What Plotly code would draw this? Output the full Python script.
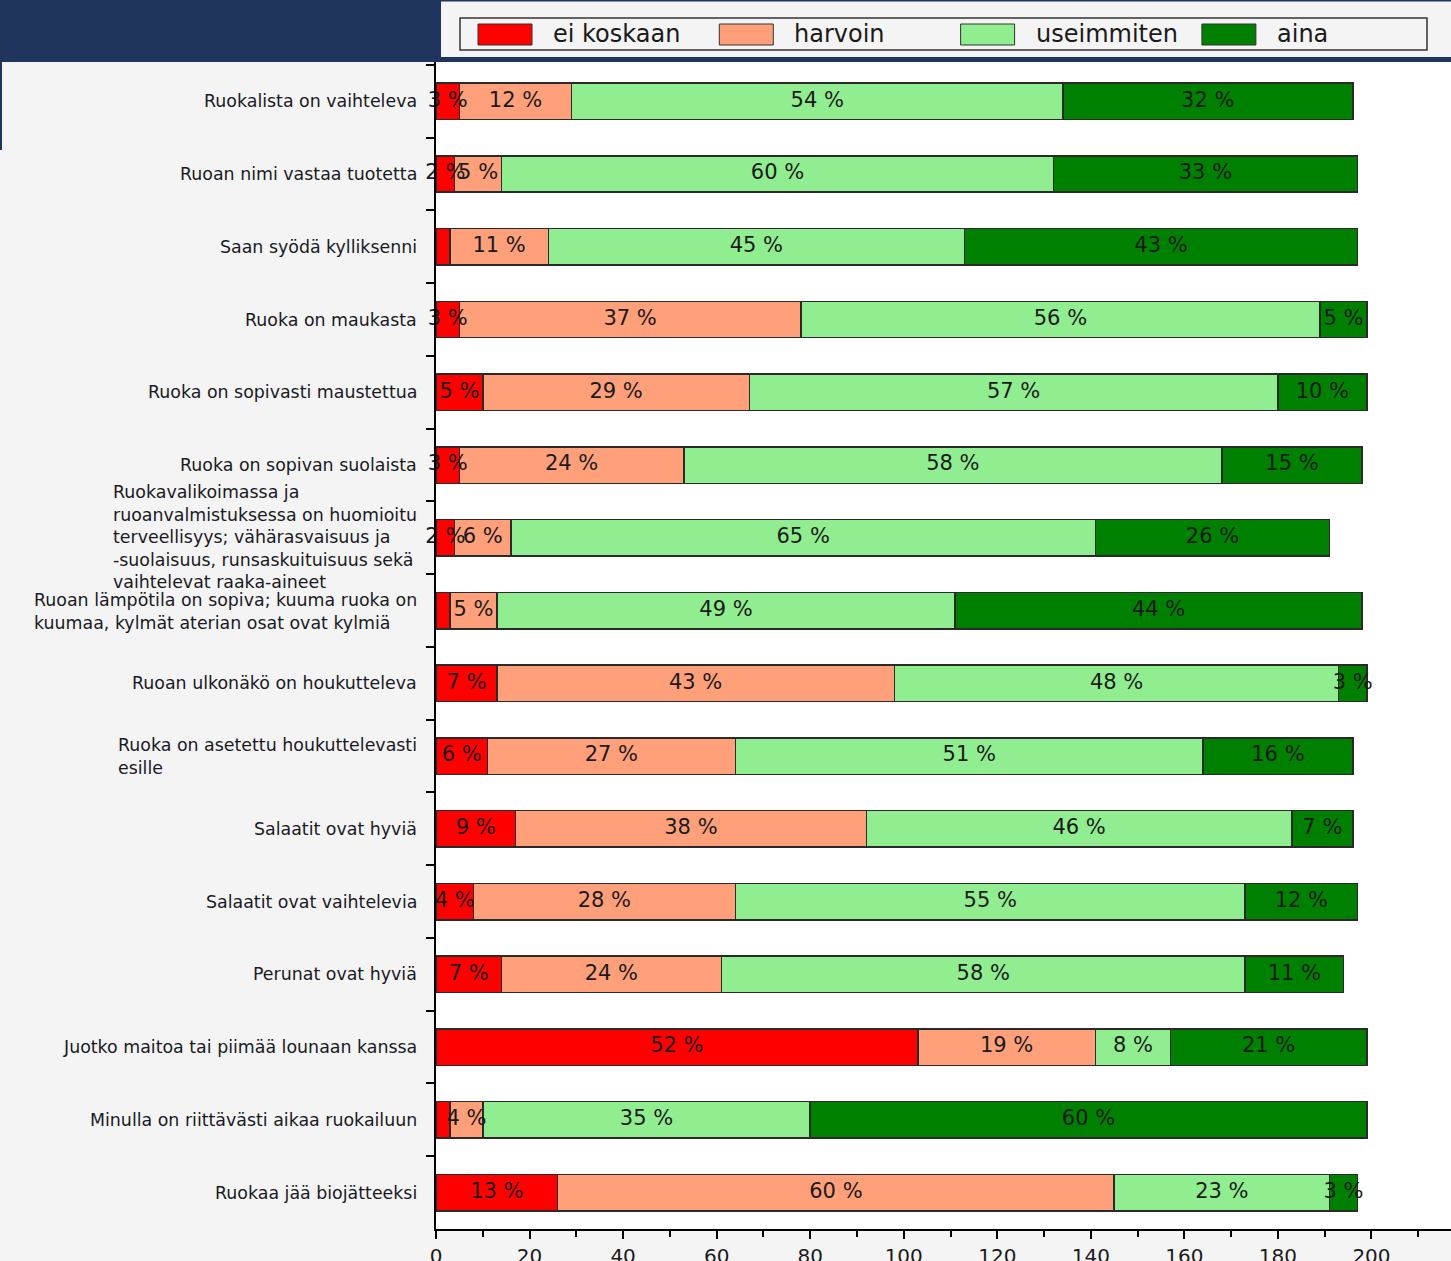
import numpy as np
import plotly.graph_objects as go

categories = [
    "Ruokalista on vaihteleva",
    "Ruoan nimi vastaa tuotetta",
    "Saan syödä kylliksenni",
    "Ruoka on maukasta",
    "Ruoka on sopivasti maustettua",
    "Ruoka on sopivan suolaista",
    "Ruokavalikoimassa ja<br>ruoanvalmistuksessa on huomioitu<br>terveellisyys; vähärasvaisuus ja<br>-suolaisuus, runsaskuituisuus sekä<br>vaihtelevat raaka-aineet",
    "Ruoan lämpötila on sopiva; kuuma ruoka on<br>kuumaa, kylmät aterian osat ovat kylmiä",
    "Ruoan ulkonäkö on houkutteleva",
    "Ruoka on asetettu houkuttelevasti<br>esille",
    "Salaatit ovat hyviä",
    "Salaatit ovat vaihtelevia",
    "Perunat ovat hyviä",
    "Juotko maitoa tai piimää lounaan kanssa",
    "Minulla on riittävästi aikaa ruokailuun",
    "Ruokaa jää biojätteeksi",
]

series_names = ["ei koskaan", "harvoin", "useimmiten", "aina"]
series_colors = ["#ff0000", "#ffa07a", "#90ee90", "#008000"]

# counts (bar lengths)
ei_koskaan = [5, 4, 3, 5, 10, 5, 4, 3, 13, 11, 17, 8, 14, 103, 3, 26]
harvoin = [24, 10, 21, 73, 57, 48, 12, 10, 85, 53, 75, 56, 47, 38, 7, 119]
useimmiten = [105, 118, 89, 111, 113, 115, 125, 98, 95, 100, 91, 109, 112, 16, 70, 46]
aina = [62, 65, 84, 10, 19, 30, 50, 87, 6, 32, 13, 24, 21, 42, 119, 6]

# percentage labels as printed (None = no label shown)
pct_ei_koskaan = [3, 2, None, 3, 5, 3, 2, None, 7, 6, 9, 4, 7, 52, None, 13]
pct_harvoin = [12, 5, 11, 37, 29, 24, 6, 5, 43, 27, 38, 28, 24, 19, 4, 60]
pct_useimmiten = [54, 60, 45, 56, 57, 58, 65, 49, 48, 51, 46, 55, 58, 8, 35, 23]
pct_aina = [32, 33, 43, 5, 10, 15, 26, 44, 3, 16, 7, 12, 11, 21, 60, 3]

x_tick_values = [0, 20, 40, 60, 80, 100, 120, 140, 160, 180, 200, 220]

counts = [ei_koskaan, harvoin, useimmiten, aina]
pcts = [pct_ei_koskaan, pct_harvoin, pct_useimmiten, pct_aina]

W, H = 1451, 1261
L, R, T, B = 436, 0, 62, 32
plot_w = W - L - R
plot_h = H - T - B


def px2x(px):
    return (px - L) / plot_w


def py2y(py):
    return (H - B - py) / plot_h


FONT = "DejaVu Sans"
TEXT_COLOR = "#1a1a24"

fig = go.Figure()

cum = np.zeros(len(categories))
for name, color, vals, pc in zip(series_names, series_colors, counts, pcts):
    vals = np.array(vals, dtype=float)
    fig.add_trace(go.Bar(
        y=categories, x=vals, orientation="h", name=name,
        marker=dict(color=color, line=dict(color="#2a2a2a", width=1.5)),
        width=0.5, showlegend=False, hoverinfo="x+y+name",
    ))
    mids = cum + vals / 2
    labels = ["" if p is None else f"{p} %" for p in pc]
    fig.add_trace(go.Scatter(
        y=categories, x=mids, mode="text", text=labels,
        textposition="middle center",
        textfont=dict(family=FONT, size=21, color="#1a1a1a"),
        showlegend=False, hoverinfo="skip", cliponaxis=False,
    ))
    cum = cum + vals

# category labels (left panel)
annotations = []
for cat in categories:
    n_lines = cat.count("<br>") + 1
    yshift = 0
    if n_lines == 5:
        yshift = 1
    elif n_lines == 2 and "lämpötila" in cat:
        yshift = -1
    annotations.append(dict(
        x=0, xref="paper", y=cat, yref="y", xanchor="right", yanchor="middle",
        xshift=-17, yshift=yshift, align="left", showarrow=False, text=cat,
        font=dict(family=FONT, size=17.4, color=TEXT_COLOR),
    ))

shapes = []
NAVY = "#1f355e"
# navy header block and bands
shapes.append(dict(type="rect", xref="paper", yref="paper", x0=px2x(0), x1=px2x(441),
                   y0=py2y(62), y1=py2y(0), fillcolor=NAVY, line=dict(width=0)))
shapes.append(dict(type="rect", xref="paper", yref="paper", x0=px2x(0), x1=px2x(W),
                   y0=py2y(62), y1=py2y(57), fillcolor=NAVY, line=dict(width=0)))
shapes.append(dict(type="rect", xref="paper", yref="paper", x0=px2x(0), x1=px2x(W),
                   y0=py2y(1.5), y1=py2y(0), fillcolor=NAVY, line=dict(width=0)))
shapes.append(dict(type="rect", xref="paper", yref="paper", x0=px2x(0), x1=px2x(2),
                   y0=py2y(150), y1=py2y(62), fillcolor=NAVY, line=dict(width=0)))

# custom legend
shapes.append(dict(type="rect", xref="paper", yref="paper", x0=px2x(460), x1=px2x(1427),
                   y0=py2y(50), y1=py2y(18), line=dict(color="#333333", width=1.5),
                   fillcolor="rgba(0,0,0,0)"))
for i, (name, color) in enumerate(zip(series_names, series_colors)):
    sx = 478 + i * 241.3
    shapes.append(dict(type="rect", xref="paper", yref="paper", x0=px2x(sx), x1=px2x(sx + 54),
                       y0=py2y(45), y1=py2y(24), fillcolor=color,
                       line=dict(color="#333333", width=1)))
    annotations.append(dict(
        x=px2x(sx + 73), xref="paper", y=py2y(34), yref="paper",
        xanchor="left", yanchor="middle", showarrow=False, text=name,
        font=dict(family=FONT, size=24, color="#1a1a1a"),
    ))

fig.update_layout(
    width=W, height=H,
    margin=dict(l=L, r=R, t=T, b=B, pad=0, autoexpand=False),
    barmode="stack",
    paper_bgcolor="#f4f4f4",
    plot_bgcolor="#ffffff",
    font=dict(family=FONT, size=20, color="#1a1a1a"),
    showlegend=False,
    annotations=annotations,
    shapes=shapes,
    xaxis=dict(
        range=[0, 217], tickmode="array", tickvals=x_tick_values,
        ticktext=[str(v) for v in x_tick_values],
        showgrid=False, zeroline=False, automargin=False,
        showline=True, linecolor="#000000", linewidth=2,
        ticks="outside", ticklen=8, tickwidth=2, tickcolor="#000000",
        minor=dict(dtick=10, tick0=0, ticks="outside", ticklen=6, tickwidth=2,
                   tickcolor="#000000", showgrid=False),
        tickfont=dict(family=FONT, size=20, color="#1a1a1a"),
        ticklabelstandoff=0,
    ),
    yaxis=dict(
        type="category", categoryorder="array", categoryarray=categories,
        range=[len(categories) - 0.5, -0.54], automargin=False,
        showgrid=False, zeroline=False,
        showline=True, linecolor="#000000", linewidth=2,
        ticks="outside", ticklen=8, tickwidth=2, tickcolor="#000000",
        tickson="boundaries", showticklabels=False,
    ),
)

fig.write_html(
    "out.html",
    config={"displayModeBar": False},
    post_script="document.body.style.margin='0';document.body.style.overflow='hidden';",
)
